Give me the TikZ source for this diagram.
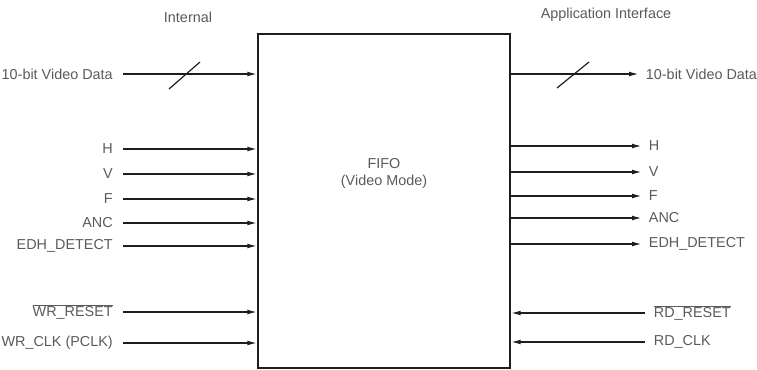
\documentclass[tikz,border=0pt]{standalone}
\usepackage{fontspec}
\setmainfont{Liberation Sans}
\usepackage{xcolor}
\definecolor{ink}{HTML}{1E1E1E}
\definecolor{txt}{HTML}{5A5A5A}
\usetikzlibrary{arrows.meta,positioning}

\begin{document}
\begin{tikzpicture}[
  x=0.75pt, y=-0.75pt,
  lbl/.style={font=\fontsize{10.8}{12.75}\selectfont, text=txt, inner ysep=1pt},
  inlbl/.style={lbl, anchor=east, inner xsep=7.5pt},
  outlbl/.style={lbl, anchor=west, inner xsep=5pt},
  fifobox/.style={draw=ink, line width=1.1pt, minimum width=189pt, minimum height=250.5pt},
  arr/.style={-{Latex[length=7.5pt,width=3.6pt]}, line width=1.1pt, color=ink},
  bus/.style={line width=0.9pt, color=ink}
]
\useasboundingbox (0,0) rectangle (757,369);

% the FIFO block
\node[fifobox] (fifo) at (384,201) {};
\node[lbl, align=center] (fifotxt) at (384,173) {FIFO\\(Video Mode)};

% headings
\node[lbl] (internal) at (188,17) {Internal};
\node[lbl] (appif) at (606,15) {Application Interface};

% write side
\node[inlbl] (vdin) at (123,74) {10-bit Video Data};
\node[inlbl] (hin) at (123,149) {H};
\node[inlbl] (vin) at (123,174) {V};
\node[inlbl] (fin) at (123,199) {F};
\node[inlbl] (ancin) at (123,223) {ANC};
\node[inlbl] (edhin) at (123,246) {EDH\_DETECT};
\node[inlbl] (wrrst) at (123,312) {$\overline{\mbox{WR\_RESET}}$};
\node[inlbl] (wrclk) at (123,343) {WR\_CLK (PCLK)};

\draw[arr] (vdin.east) -- (vdin.east -| fifo.west);
\draw[bus] (169,89) -- (200,62);
\draw[arr] (hin.east) -- (hin.east -| fifo.west);
\draw[arr] (vin.east) -- (vin.east -| fifo.west);
\draw[arr] (fin.east) -- (fin.east -| fifo.west);
\draw[arr] (ancin.east) -- (ancin.east -| fifo.west);
\draw[arr] (edhin.east) -- (edhin.east -| fifo.west);
\draw[arr] (wrrst.east) -- (wrrst.east -| fifo.west);
\draw[arr] (wrclk.east) -- (wrclk.east -| fifo.west);

% read side
\node[outlbl] (vdout) at (639,74) {10-bit Video Data};
\node[outlbl] (hout) at (642,146) {H};
\node[outlbl] (vout) at (642,172) {V};
\node[outlbl] (fout) at (642,196) {F};
\node[outlbl] (ancout) at (642,218) {ANC};
\node[outlbl] (edhout) at (642,244) {EDH\_DETECT};
\node[outlbl, inner xsep=6.5pt] (rdrst) at (645,313) {$\overline{\mbox{RD\_RESET}}$};
\node[outlbl, inner xsep=6.5pt] (rdclk) at (645,342) {RD\_CLK};

\draw[arr] (vdout.west -| fifo.east) -- (vdout.west);
\draw[bus] (557,88) -- (589,62);
\draw[arr] (hout.west -| fifo.east) -- (hout.west);
\draw[arr] (vout.west -| fifo.east) -- (vout.west);
\draw[arr] (fout.west -| fifo.east) -- (fout.west);
\draw[arr] (ancout.west -| fifo.east) -- (ancout.west);
\draw[arr] (edhout.west -| fifo.east) -- (edhout.west);
\draw[arr] (rdrst.west) -- (rdrst.west -| fifo.east);
\draw[arr] (rdclk.west) -- (rdclk.west -| fifo.east);
\end{tikzpicture}
\end{document}
